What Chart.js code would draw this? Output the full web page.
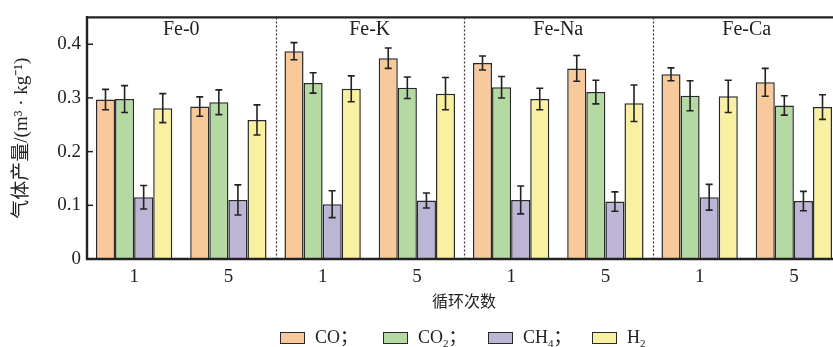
<!DOCTYPE html>
<html>
<head>
<meta charset="utf-8">
<script src="https://cdn.jsdelivr.net/npm/chart.js@4/dist/chart.umd.min.js"></script>
<style>
  body { margin: 0; background: #fff; overflow: hidden; }
  #wrap { position: relative; width: 845px; height: 347px; }
  #wrap canvas { display: block; }
  .leg { position: absolute; top: 329px; height: 17px; display: flex; align-items: center;
         font: 18px "Liberation Serif", "Noto Sans CJK SC", serif; line-height: 17px; color: #222; white-space: nowrap; }
  .leg i { display: block; flex-shrink: 0; width: 23px; height: 10px; border: 1.5px solid #2a2a2a; margin-right: 10px; }
  .leg sub { font-size: 11px; line-height: 0; vertical-align: baseline; position: relative; top: 4px; }
</style>
</head>
<body>
<div id="wrap">
  <canvas id="gasChart" width="845" height="347"></canvas>
</div>
<script>
'use strict'

// data
var catalysts = ['Fe-0', 'Fe-K', 'Fe-Na', 'Fe-Ca'];
var cycles = ['1', '5'];
var gasNames = ['CO', 'CO2', 'CH4', 'H2'];
var coVals  = [0.297, 0.284, 0.387, 0.374, 0.365, 0.355, 0.344, 0.329];
var coErr   = [0.019, 0.018, 0.016, 0.019, 0.013, 0.024, 0.012, 0.026];
var co2Vals = [0.298, 0.292, 0.328, 0.319, 0.320, 0.311, 0.304, 0.286];
var co2Err  = [0.025, 0.023, 0.019, 0.020, 0.020, 0.022, 0.028, 0.018];
var ch4Vals = [0.115, 0.110, 0.102, 0.109, 0.110, 0.107, 0.115, 0.108];
var ch4Err  = [0.022, 0.028, 0.025, 0.014, 0.026, 0.018, 0.024, 0.018];
var h2Vals  = [0.281, 0.259, 0.317, 0.308, 0.298, 0.290, 0.303, 0.283];
var h2Err   = [0.027, 0.028, 0.024, 0.030, 0.020, 0.034, 0.030, 0.023];
var yTicks  = [0, 0.1, 0.2, 0.3, 0.4];

var colors = ['#f8c99a', '#b4d9a2', '#bdb5d5', '#f9f0a2'];
var serif = '"Liberation Serif", "Noto Sans CJK SC", serif';

var labels = [];
catalysts.forEach(function () { cycles.forEach(function (c) { labels.push(c); }); });

// legend (html, so subscripts stay real text)
var legendHtml = ['CO；', 'CO<sub>2</sub>；', 'CH<sub>4</sub>；', 'H<sub>2</sub>'];
var legendLeft = [280, 383, 488, 592];
var wrap = document.getElementById('wrap');
gasNames.forEach(function (g, i) {
  var d = document.createElement('div');
  d.className = 'leg';
  d.style.left = legendLeft[i] + 'px';
  d.innerHTML = '<i style="background:' + colors[i] + '"></i><span>' + legendHtml[i] + '</span>';
  wrap.appendChild(d);
});

var panelPlugin = {
  id: 'panels',
  afterDatasetsDraw: function (chart) {
    var ctx = chart.ctx, x = chart.scales.x, y = chart.scales.y, a = chart.chartArea;
    ctx.save();
    // error bars
    chart.data.datasets.forEach(function (ds, i) {
      var meta = chart.getDatasetMeta(i);
      meta.data.forEach(function (bar, j) {
        var v = ds.data[j], e = ds.errors[j];
        var yt = y.getPixelForValue(v + e), yb = y.getPixelForValue(v - e);
        ctx.strokeStyle = '#222';
        ctx.lineWidth = 1.6;
        ctx.beginPath();
        ctx.moveTo(bar.x, yt); ctx.lineTo(bar.x, yb);
        ctx.moveTo(bar.x - 3.5, yt); ctx.lineTo(bar.x + 3.5, yt);
        ctx.moveTo(bar.x - 3.5, yb); ctx.lineTo(bar.x + 3.5, yb);
        ctx.stroke();
      });
    });
    // dotted separators
    ctx.setLineDash([2, 2]);
    ctx.lineWidth = 1.2;
    ctx.strokeStyle = '#333';
    for (var k = 1; k < catalysts.length; k++) {
      var sx = Math.round((x.getPixelForValue(2 * k - 1) + x.getPixelForValue(2 * k)) / 2) + 0.5;
      ctx.beginPath();
      ctx.moveTo(sx, a.top); ctx.lineTo(sx, a.bottom);
      ctx.stroke();
    }
    ctx.setLineDash([]);
    // frame on top of the bars
    ctx.lineWidth = 2.4;
    ctx.strokeStyle = '#222';
    ctx.beginPath();
    ctx.moveTo(a.right, a.bottom); ctx.lineTo(a.left, a.bottom);
    ctx.lineTo(a.left, a.top); ctx.lineTo(a.right, a.top);
    ctx.lineTo(a.right, a.bottom);
    ctx.stroke();
    // inner y ticks
    ctx.lineWidth = 1.5;
    yTicks.forEach(function (t) {
      if (t === 0) return;
      var py = y.getPixelForValue(t);
      ctx.beginPath();
      ctx.moveTo(a.left, py); ctx.lineTo(a.left + 6, py);
      ctx.stroke();
    });
    // panel titles
    ctx.fillStyle = '#222';
    ctx.font = '20px ' + serif;
    ctx.textAlign = 'center';
    ctx.textBaseline = 'middle';
    catalysts.forEach(function (c, k) {
      var cx = (x.getPixelForValue(2 * k) + x.getPixelForValue(2 * k + 1)) / 2;
      ctx.fillText(c, cx, a.top + 12);
    });
    ctx.restore();
  }
};

var makeSet = function (i, vals, errs) {
  return {
    label: gasNames[i],
    data: vals,
    errors: errs,
    backgroundColor: colors[i],
    borderColor: '#2a2a2a',
    borderWidth: 1.5,
    categoryPercentage: 0.81,
    barPercentage: 1.0
  };
};

var gasChart = new Chart(document.getElementById('gasChart').getContext('2d'), {
  type: 'bar',
  data: {
    labels: labels,
    datasets: [
      makeSet(0, coVals, coErr),
      makeSet(1, co2Vals, co2Err),
      makeSet(2, ch4Vals, ch4Err),
      makeSet(3, h2Vals, h2Err)
    ]
  },
  options: {
    responsive: false,
    animation: false,
    layout: { padding: { top: 11, left: 0, right: 4, bottom: 0 } },
    plugins: { legend: { display: false }, tooltip: { enabled: false } },
    scales: {
      x: {
        grid: { display: false, drawTicks: false },
        border: { display: true, color: '#222', width: 2 },
        ticks: { color: '#222', padding: 7, font: { family: serif, size: 19 } },
        title: {
          display: true, text: '循环次数', color: '#222',
          font: { family: serif, size: 16 }, padding: { top: 0, bottom: 35 }
        },
        afterFit: function (s) { s.height = 88; }
      },
      y: {
        min: 0,
        max: 0.45,
        grid: { display: false, drawTicks: false },
        border: { display: true, color: '#222', width: 2 },
        afterBuildTicks: function (s) { s.ticks = yTicks.map(function (v) { return { value: v }; }); },
        ticks: {
          color: '#222', padding: 6, font: { family: serif, size: 19 },
          callback: function (v) { return v === 0 ? '0' : v.toFixed(1); }
        },
        title: {
          display: true, text: '气体产量/(m³ · kg⁻¹)', color: '#222',
          font: { family: serif, size: 19 }, padding: { top: 11, bottom: 0 }
        },
        afterFit: function (s) { s.width = 87; }
      }
    }
  },
  plugins: [panelPlugin]
});
</script>
</body>
</html>
